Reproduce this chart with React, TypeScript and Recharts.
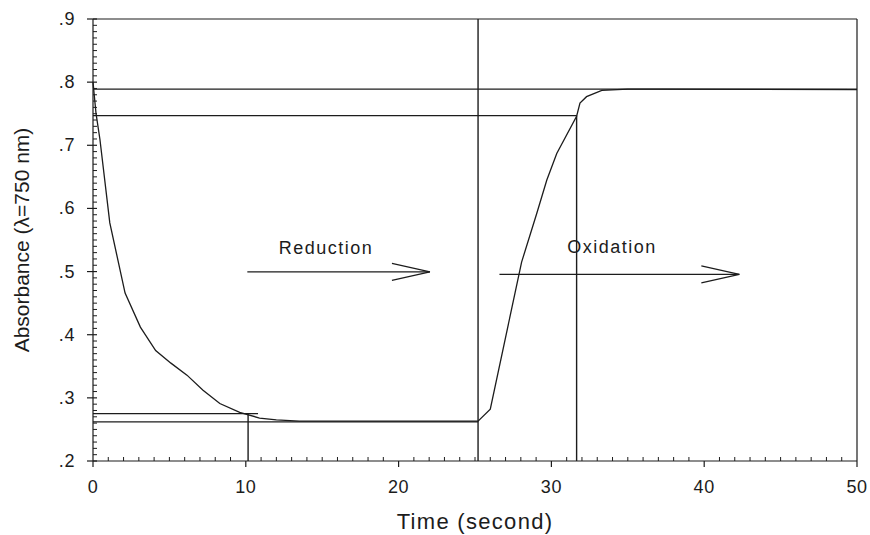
import { ComposedChart, Line, ReferenceDot, ReferenceLine, XAxis, YAxis } from "recharts";

// absorbance trace
const TIME = [0, 0.2, 0.45, 1.1, 2.1, 3.1, 4.1, 5.1, 6.15, 7.2, 8.3, 9.6, 10.9, 12, 13.5, 25.2, 26.0, 28.05, 29.04, 29.7, 30.35, 31.65, 31.87, 32.3, 33.3, 35, 37, 50];
const ABSORBANCE = [0.8, 0.75, 0.71, 0.577, 0.466, 0.412, 0.375, 0.355, 0.336, 0.312, 0.291, 0.277, 0.268, 0.265, 0.263, 0.263, 0.282, 0.515, 0.592, 0.645, 0.687, 0.746, 0.767, 0.777, 0.787, 0.789, 0.789, 0.788];

const X_MAJOR = [0, 10, 20, 30, 40, 50];
const X_LABELS = ["0", "10", "20", "30", "40", "50"];
const Y_MAJOR = [0.2, 0.3, 0.4, 0.5, 0.6, 0.7, 0.8, 0.9];
const Y_LABELS = [".2", ".3", ".4", ".5", ".6", ".7", ".8", ".9"];

// guide lines drawn on the figure (data units)
const GUIDES = [
  { x1: 0, y1: 0.789, x2: 50, y2: 0.789 },
  { x1: 0, y1: 0.747, x2: 31.65, y2: 0.747 },
  { x1: 31.65, y1: 0.2, x2: 31.65, y2: 0.747 },
  { x1: 25.2, y1: 0.2, x2: 25.2, y2: 0.9 },
  { x1: 0, y1: 0.275, x2: 10.8, y2: 0.275 },
  { x1: 10.15, y1: 0.2, x2: 10.15, y2: 0.275 },
  { x1: 0, y1: 0.262, x2: 25.2, y2: 0.262 },
];

const ARROWS = [
  { label: "Reduction", x1: 10.1, x2: 22.05, y: 0.4995, labelX: 15.25, labelY: 0.537 },
  { label: "Oxidation", x1: 26.6, x2: 42.3, y: 0.4955, labelX: 33.97, labelY: 0.539 },
];

const DATA = TIME.map((t, i) => ({ t, a: ABSORBANCE[i] }));
const X_TICKS = Array.from({ length: 51 }, (_, i) => i);
const Y_TICKS = Array.from({ length: 71 }, (_, i) => (20 + i) / 100);

const INK = "#1c1c1c";
const FONT = "'Liberation Sans', Arial, sans-serif";

function XTick({ x, y, payload }: any) {
  const idx = X_MAJOR.indexOf(payload.value);
  if (idx >= 0) {
    return (
      <g>
        <line x1={x} y1={y} x2={x} y2={y + 6} stroke={INK} strokeWidth={1.2} />
        <text x={x} y={y + 32} textAnchor="middle" fontSize={18} letterSpacing={0.6} fontFamily={FONT} fill={INK}>
          {X_LABELS[idx]}
        </text>
      </g>
    );
  }
  return <line x1={x} y1={y} x2={x} y2={y - 4} stroke={INK} strokeWidth={1} />;
}

function YTick({ x, y, payload }: any) {
  const idx = Y_MAJOR.findIndex((v) => Math.abs(v - payload.value) < 1e-6);
  if (idx >= 0) {
    return (
      <g>
        <line x1={x - 6} y1={y} x2={x + 4} y2={y} stroke={INK} strokeWidth={1.2} />
        <text x={x - 18} y={y + 6} textAnchor="end" fontSize={18} letterSpacing={0.6} fontFamily={FONT} fill={INK}>
          {Y_LABELS[idx]}
        </text>
      </g>
    );
  }
  return <line x1={x} y1={y} x2={x + 4} y2={y} stroke={INK} strokeWidth={1} />;
}

function ArrowShape({ x1, y1, x2, y2 }: any) {
  return (
    <g>
      <line x1={x1} y1={y1} x2={x2} y2={y2} stroke={INK} strokeWidth={1.2} />
      <polyline
        points={`${x2 - 38},${y2 - 8.5} ${x2},${y2} ${x2 - 38},${y2 + 8.5}`}
        fill="none"
        stroke={INK}
        strokeWidth={1.2}
      />
    </g>
  );
}

function LabelShape(text: string) {
  return ({ cx, cy }: any) => (
    <text x={cx} y={cy + 6} textAnchor="middle" fontSize={18} letterSpacing={1.5} fontFamily={FONT} fill={INK}>
      {text}
    </text>
  );
}

export default function App() {
  return (
    <div style={{ position: "absolute", left: 0, top: 0, background: "#fff" }}>
      <ComposedChart width={870} height={535} data={DATA} margin={{ top: 19, right: 13, bottom: 0, left: 0 }}>
        <XAxis
          dataKey="t"
          type="number"
          domain={[0, 50]}
          ticks={X_TICKS}
          interval={0}
          height={74}
          tickSize={0}
          tickMargin={0}
          tickLine={false}
          tick={XTick}
          axisLine={{ stroke: INK, strokeWidth: 1.2 }}
          label={{
            value: "Time (second)",
            position: "insideBottom",
            offset: 6,
            fontSize: 22,
            letterSpacing: 1.3,
            fontFamily: FONT,
            fill: INK,
          }}
        />
        <YAxis
          type="number"
          domain={[0.2, 0.9]}
          ticks={Y_TICKS}
          interval={0}
          width={93}
          tickSize={0}
          tickMargin={0}
          tickLine={false}
          tick={YTick}
          axisLine={{ stroke: INK, strokeWidth: 1.2 }}
          label={{
            value: "Absorbance (λ=750 nm)",
            angle: -90,
            position: "insideLeft",
            offset: 22,
            fontSize: 21,
            fontFamily: FONT,
            fill: INK,
            style: { textAnchor: "middle" },
          }}
        />
        <ReferenceLine y={0.9} stroke={INK} strokeWidth={1.2} />
        <ReferenceLine x={50} stroke={INK} strokeWidth={1.2} />
        {GUIDES.map((g, i) => (
          <ReferenceLine
            key={`g${i}`}
            segment={[
              { x: g.x1, y: g.y1 },
              { x: g.x2, y: g.y2 },
            ]}
            stroke={INK}
            strokeWidth={1.4}
          />
        ))}
        {ARROWS.map((a) => (
          <ReferenceLine
            key={a.label}
            segment={[
              { x: a.x1, y: a.y },
              { x: a.x2, y: a.y },
            ]}
            shape={ArrowShape}
          />
        ))}
        {ARROWS.map((a) => (
          <ReferenceDot key={`l${a.label}`} x={a.labelX} y={a.labelY} shape={LabelShape(a.label)} />
        ))}
        <Line
          type="linear"
          dataKey="a"
          stroke={INK}
          strokeWidth={1.3}
          dot={false}
          isAnimationActive={false}
        />
      </ComposedChart>
    </div>
  );
}
